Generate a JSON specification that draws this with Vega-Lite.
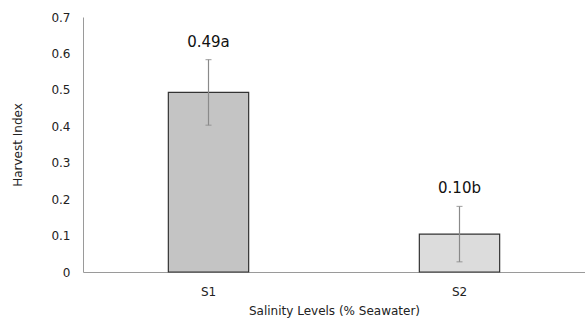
{
  "$schema": "https://vega.github.io/schema/vega-lite/v6.json",
  "autosize": "none",
  "width": 502,
  "height": 255,
  "padding": {"left": 83, "top": 17, "right": 0, "bottom": 51},
  "background": "white",
  "config": {"view": {"stroke": null}, "font": "DejaVu Sans",
    "axisY": {"grid": false, "ticks": false, "labelOverlap": false, "labelFlush": false,
      "labelPadding": 13, "domainColor": "#9a9a9a", "labelFont": "DejaVu Sans", "labelFontSize": 12, "labelColor": "#222",
      "titleFont": "DejaVu Sans", "titleFontSize": 12, "titleFontWeight": "normal", "titleColor": "#222", "titlePadding": 26}},
  "data": {"values": [
    {"level": "S1", "hi": 0.493, "lo": 0.403, "up": 0.583, "label": "0.49a", "fill": "#c4c4c4"},
    {"level": "S2", "hi": 0.104, "lo": 0.028, "up": 0.18, "label": "0.10b", "fill": "#dcdcdc"}
  ]},
  "encoding": {
    "x": {"field": "level", "type": "nominal",
      "scale": {"paddingInner": 0.68, "paddingOuter": 0.34},
      "axis": {"title": "Salinity Levels (% Seawater)", "labelAngle": 0, "ticks": false, "labelPadding": 14,
        "domainColor": "#9a9a9a", "labelFont": "DejaVu Sans", "labelFontSize": 12, "labelColor": "#222",
        "titleFont": "DejaVu Sans", "titleFontSize": 12, "titleFontWeight": "normal", "titleColor": "#222", "titlePadding": 8}}
  },
  "layer": [
    {"mark": {"type": "bar", "stroke": "#333", "strokeWidth": 1.2},
      "encoding": {
        "y": {"field": "hi", "type": "quantitative", "title": "Harvest Index",
          "scale": {"domain": [0, 0.7]},
          "axis": {"values": [0, 0.1, 0.2, 0.3, 0.4, 0.5, 0.6, 0.7], "labelOverlap": false, "labelExpr": "datum.value == 0 ? '0' : format(datum.value, '.1f')"}},
        "fill": {"field": "fill", "type": "nominal", "scale": null}
      }},
    {"mark": {"type": "rule", "color": "#8a8a8a", "strokeWidth": 1.2},
      "encoding": {"y": {"field": "lo", "type": "quantitative", "title": "Harvest Index",
        "axis": {"values": [0, 0.1, 0.2, 0.3, 0.4, 0.5, 0.6, 0.7], "labelOverlap": false, "labelExpr": "datum.value == 0 ? '0' : format(datum.value, '.1f')"}}, "y2": {"field": "up"}}},
    {"mark": {"type": "tick", "color": "#8a8a8a", "size": 6, "thickness": 1.2, "orient": "horizontal"},
      "encoding": {"y": {"field": "up", "type": "quantitative", "title": "Harvest Index",
        "axis": {"values": [0, 0.1, 0.2, 0.3, 0.4, 0.5, 0.6, 0.7], "labelOverlap": false, "labelExpr": "datum.value == 0 ? '0' : format(datum.value, '.1f')"}}}},
    {"mark": {"type": "tick", "color": "#8a8a8a", "size": 6, "thickness": 1.2, "orient": "horizontal"},
      "encoding": {"y": {"field": "lo", "type": "quantitative", "title": "Harvest Index",
        "axis": {"values": [0, 0.1, 0.2, 0.3, 0.4, 0.5, 0.6, 0.7], "labelOverlap": false, "labelExpr": "datum.value == 0 ? '0' : format(datum.value, '.1f')"}}}},
    {"mark": {"type": "text", "fontSize": 15, "font": "DejaVu Sans", "color": "#111", "baseline": "bottom", "dy": -10},
      "encoding": {"y": {"field": "up", "type": "quantitative", "title": "Harvest Index",
        "axis": {"values": [0, 0.1, 0.2, 0.3, 0.4, 0.5, 0.6, 0.7], "labelOverlap": false, "labelExpr": "datum.value == 0 ? '0' : format(datum.value, '.1f')"}}, "text": {"field": "label"}}}
  ]
}
